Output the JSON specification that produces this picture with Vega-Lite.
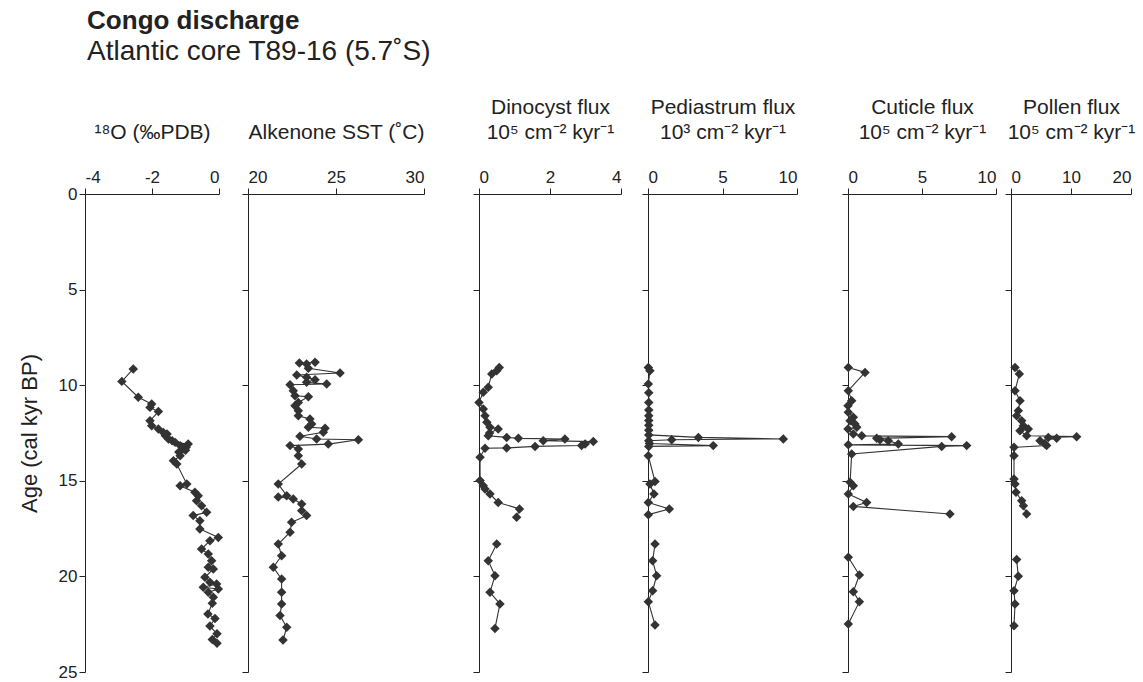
{
  "$schema": "https://vega.github.io/schema/vega-lite/v6.json",
  "padding": {"left": 18, "top": 8, "right": 0, "bottom": 0},
  "background": "white",
  "title": {
    "text": "Congo discharge",
    "subtitle": "Atlantic core T89-16 (5.7˚S)",
    "anchor": "start",
    "dx": 69,
    "font": "Liberation Sans",
    "fontSize": 26,
    "fontWeight": "bold",
    "color": "#222",
    "subtitleFont": "Liberation Sans",
    "subtitleFontSize": 28,
    "subtitleColor": "#222",
    "subtitlePadding": 4,
    "offset": 30
  },
  "datasets": {
    "d18o": [
      {"age": 9.15, "v": -2.56, "seg": "a"}, {"age": 9.8, "v": -2.9, "seg": "a"}, {"age": 10.63, "v": -2.41, "seg": "a"},
      {"age": 10.98, "v": -2.01, "seg": "a"}, {"age": 11.16, "v": -2.06, "seg": "a"}, {"age": 11.38, "v": -1.81, "seg": "a"},
      {"age": 11.86, "v": -2.06, "seg": "a"}, {"age": 12.12, "v": -2.01, "seg": "a"}, {"age": 12.29, "v": -1.81, "seg": "a"},
      {"age": 12.47, "v": -1.66, "seg": "a"}, {"age": 12.55, "v": -1.55, "seg": "a"}, {"age": 12.65, "v": -1.6, "seg": "a"},
      {"age": 12.81, "v": -1.51, "seg": "a"}, {"age": 12.9, "v": -1.4, "seg": "a"}, {"age": 12.99, "v": -1.31, "seg": "a"},
      {"age": 13.08, "v": -0.92, "seg": "a"}, {"age": 13.16, "v": -1.16, "seg": "a"}, {"age": 13.25, "v": -0.98, "seg": "a"},
      {"age": 13.34, "v": -1.07, "seg": "a"}, {"age": 13.4, "v": -1.0, "seg": "a"}, {"age": 13.5, "v": -1.2, "seg": "a"},
      {"age": 13.69, "v": -1.16, "seg": "a"}, {"age": 13.95, "v": -1.36, "seg": "a"}, {"age": 14.12, "v": -1.26, "seg": "a"},
      {"age": 15.17, "v": -0.96, "seg": "a"}, {"age": 15.26, "v": -1.16, "seg": "a"}, {"age": 15.6, "v": -0.72, "seg": "a"},
      {"age": 15.78, "v": -0.62, "seg": "a"}, {"age": 16.04, "v": -0.67, "seg": "a"}, {"age": 16.3, "v": -0.52, "seg": "a"},
      {"age": 16.65, "v": -0.37, "seg": "a"}, {"age": 16.82, "v": -0.77, "seg": "a"}, {"age": 17.09, "v": -0.57, "seg": "a"},
      {"age": 17.52, "v": -0.57, "seg": "a"}, {"age": 17.96, "v": -0.02, "seg": "a"}, {"age": 18.13, "v": -0.27, "seg": "a"},
      {"age": 18.57, "v": -0.52, "seg": "a"}, {"age": 18.83, "v": -0.32, "seg": "a"}, {"age": 19.18, "v": -0.22, "seg": "a"},
      {"age": 19.52, "v": -0.32, "seg": "a"}, {"age": 19.61, "v": -0.17, "seg": "a"}, {"age": 20.05, "v": -0.42, "seg": "a"},
      {"age": 20.31, "v": -0.27, "seg": "a"}, {"age": 20.4, "v": -0.07, "seg": "a"}, {"age": 20.57, "v": -0.47, "seg": "a"},
      {"age": 20.66, "v": -0.02, "seg": "a"}, {"age": 20.83, "v": -0.32, "seg": "a"}, {"age": 21.09, "v": -0.17, "seg": "a"},
      {"age": 21.4, "v": -0.2, "seg": "a"}, {"age": 21.97, "v": -0.33, "seg": "a"}, {"age": 22.2, "v": -0.12, "seg": "a"},
      {"age": 22.6, "v": -0.27, "seg": "a"}, {"age": 23.0, "v": -0.06, "seg": "a"}, {"age": 23.3, "v": -0.2, "seg": "a"},
      {"age": 23.5, "v": -0.06, "seg": "a"}
    ],
    "sst": [
      {"age": 8.8, "v": 23.81, "seg": "a"}, {"age": 8.84, "v": 22.92, "seg": "a"}, {"age": 8.89, "v": 23.33, "seg": "a"},
      {"age": 9.12, "v": 23.43, "seg": "a"}, {"age": 9.36, "v": 25.23, "seg": "a"}, {"age": 9.47, "v": 22.77, "seg": "a"},
      {"age": 9.59, "v": 23.33, "seg": "a"}, {"age": 9.71, "v": 23.81, "seg": "a"}, {"age": 9.85, "v": 23.33, "seg": "a"},
      {"age": 9.94, "v": 24.47, "seg": "a"}, {"age": 9.98, "v": 22.39, "seg": "a"}, {"age": 10.29, "v": 22.57, "seg": "a"},
      {"age": 10.55, "v": 22.67, "seg": "a"}, {"age": 10.6, "v": 23.43, "seg": "a"}, {"age": 10.9, "v": 22.86, "seg": "a"},
      {"age": 11.07, "v": 22.67, "seg": "a"}, {"age": 11.33, "v": 22.86, "seg": "a"}, {"age": 11.6, "v": 22.86, "seg": "a"},
      {"age": 11.77, "v": 23.52, "seg": "a"}, {"age": 12.03, "v": 23.62, "seg": "a"}, {"age": 12.2, "v": 23.43, "seg": "a"},
      {"age": 12.25, "v": 24.38, "seg": "a"}, {"age": 12.46, "v": 24.28, "seg": "a"}, {"age": 12.67, "v": 22.95, "seg": "a"},
      {"age": 12.81, "v": 23.9, "seg": "a"}, {"age": 12.85, "v": 26.27, "seg": "a"}, {"age": 13.08, "v": 24.56, "seg": "a"},
      {"age": 13.16, "v": 22.39, "seg": "a"}, {"age": 13.34, "v": 22.86, "seg": "a"}, {"age": 13.69, "v": 22.86, "seg": "a"},
      {"age": 14.12, "v": 23.05, "seg": "a"}, {"age": 15.17, "v": 21.72, "seg": "a"}, {"age": 15.78, "v": 22.2, "seg": "a"},
      {"age": 15.85, "v": 21.72, "seg": "a"}, {"age": 15.95, "v": 22.57, "seg": "a"}, {"age": 16.21, "v": 23.05, "seg": "a"},
      {"age": 16.56, "v": 23.05, "seg": "a"}, {"age": 16.82, "v": 23.33, "seg": "a"}, {"age": 17.17, "v": 22.48, "seg": "a"},
      {"age": 17.69, "v": 22.39, "seg": "a"}, {"age": 18.31, "v": 21.72, "seg": "a"}, {"age": 18.92, "v": 21.91, "seg": "a"},
      {"age": 19.52, "v": 21.44, "seg": "a"}, {"age": 20.14, "v": 21.91, "seg": "a"}, {"age": 20.83, "v": 21.91, "seg": "a"},
      {"age": 21.44, "v": 21.91, "seg": "a"}, {"age": 22.05, "v": 21.82, "seg": "a"}, {"age": 22.66, "v": 22.2, "seg": "a"},
      {"age": 23.33, "v": 21.99, "seg": "a"}
    ],
    "dino": [
      {"age": 9.07, "v": 0.57, "seg": "a"}, {"age": 9.24, "v": 0.5, "seg": "a"}, {"age": 9.41, "v": 0.36, "seg": "a"},
      {"age": 10.11, "v": 0.26, "seg": "a"}, {"age": 10.37, "v": 0.12, "seg": "a"}, {"age": 10.9, "v": 0.0, "seg": "a"},
      {"age": 11.24, "v": 0.12, "seg": "a"}, {"age": 11.6, "v": 0.17, "seg": "a"}, {"age": 11.94, "v": 0.22, "seg": "a"},
      {"age": 12.2, "v": 0.31, "seg": "a"}, {"age": 12.29, "v": 0.54, "seg": "a"}, {"age": 12.5, "v": 0.3, "seg": "a"},
      {"age": 12.64, "v": 0.26, "seg": "a"}, {"age": 12.73, "v": 0.78, "seg": "a"}, {"age": 12.78, "v": 1.11, "seg": "a"},
      {"age": 12.81, "v": 2.42, "seg": "a"}, {"age": 12.9, "v": 1.81, "seg": "a"}, {"age": 12.95, "v": 3.22, "seg": "a"},
      {"age": 13.08, "v": 2.99, "seg": "a"}, {"age": 13.15, "v": 2.89, "seg": "a"}, {"age": 13.2, "v": 1.58, "seg": "a"},
      {"age": 13.28, "v": 0.78, "seg": "a"}, {"age": 13.3, "v": 0.17, "seg": "a"}, {"age": 13.77, "v": 0.03, "seg": "a"},
      {"age": 14.99, "v": 0.03, "seg": "a"}, {"age": 15.26, "v": 0.12, "seg": "a"}, {"age": 15.43, "v": 0.17, "seg": "a"},
      {"age": 15.69, "v": 0.31, "seg": "a"}, {"age": 16.13, "v": 0.54, "seg": "a"}, {"age": 16.47, "v": 1.14, "seg": "a"},
      {"age": 16.91, "v": 1.06, "seg": "a"},
      {"age": 18.31, "v": 0.5, "seg": "b"}, {"age": 19.18, "v": 0.26, "seg": "b"}, {"age": 19.96, "v": 0.45, "seg": "b"},
      {"age": 20.83, "v": 0.31, "seg": "b"}, {"age": 21.44, "v": 0.59, "seg": "b"}, {"age": 22.72, "v": 0.45, "seg": "b"}
    ],
    "pedi": [
      {"age": 9.07, "v": 0.02, "seg": "a"}, {"age": 9.24, "v": 0.13, "seg": "a"}, {"age": 9.94, "v": 0.02, "seg": "a"},
      {"age": 10.4, "v": 0.05, "seg": "a"}, {"age": 10.9, "v": 0.05, "seg": "a"}, {"age": 11.3, "v": 0.05, "seg": "a"},
      {"age": 11.6, "v": 0.05, "seg": "a"}, {"age": 11.85, "v": 0.05, "seg": "a"}, {"age": 12.1, "v": 0.05, "seg": "a"},
      {"age": 12.35, "v": 0.05, "seg": "a"}, {"age": 12.6, "v": 0.05, "seg": "a"}, {"age": 12.73, "v": 3.38, "seg": "a"},
      {"age": 12.81, "v": 9.08, "seg": "a"}, {"age": 12.85, "v": 1.59, "seg": "a"}, {"age": 12.9, "v": 0.05, "seg": "a"},
      {"age": 13.05, "v": 0.1, "seg": "a"}, {"age": 13.16, "v": 4.38, "seg": "a"}, {"age": 13.2, "v": 0.05, "seg": "a"},
      {"age": 13.69, "v": 0.02, "seg": "a"}, {"age": 15.04, "v": 0.47, "seg": "a"}, {"age": 15.17, "v": 0.13, "seg": "a"},
      {"age": 15.69, "v": 0.4, "seg": "a"}, {"age": 16.13, "v": 0.02, "seg": "a"}, {"age": 16.47, "v": 1.43, "seg": "a"},
      {"age": 16.77, "v": 0.02, "seg": "a"},
      {"age": 18.31, "v": 0.47, "seg": "b"}, {"age": 19.18, "v": 0.31, "seg": "b"}, {"age": 19.96, "v": 0.58, "seg": "b"},
      {"age": 20.75, "v": 0.31, "seg": "b"}, {"age": 21.32, "v": 0.02, "seg": "b"}, {"age": 22.54, "v": 0.47, "seg": "b"}
    ],
    "cut": [
      {"age": 9.07, "v": 0.02, "seg": "a"}, {"age": 9.33, "v": 1.15, "seg": "a"}, {"age": 10.29, "v": 0.02, "seg": "a"},
      {"age": 10.81, "v": 0.25, "seg": "a"}, {"age": 11.07, "v": 0.0, "seg": "a"}, {"age": 11.42, "v": 0.02, "seg": "a"},
      {"age": 11.68, "v": 0.36, "seg": "a"}, {"age": 11.86, "v": 0.14, "seg": "a"}, {"age": 12.03, "v": 0.47, "seg": "a"},
      {"age": 12.2, "v": 0.59, "seg": "a"}, {"age": 12.29, "v": 0.0, "seg": "a"}, {"age": 12.55, "v": 0.36, "seg": "a"},
      {"age": 12.65, "v": 0.93, "seg": "a"}, {"age": 12.69, "v": 7.0, "seg": "a"}, {"age": 12.78, "v": 1.94, "seg": "a"},
      {"age": 12.85, "v": 2.16, "seg": "a"}, {"age": 12.9, "v": 2.72, "seg": "a"}, {"age": 13.08, "v": 3.4, "seg": "a"},
      {"age": 13.12, "v": 0.02, "seg": "a"}, {"age": 13.16, "v": 8.02, "seg": "a"}, {"age": 13.2, "v": 6.33, "seg": "a"},
      {"age": 13.6, "v": 0.25, "seg": "a"}, {"age": 15.08, "v": 0.14, "seg": "a"}, {"age": 15.26, "v": 0.36, "seg": "a"},
      {"age": 15.69, "v": 0.02, "seg": "a"}, {"age": 16.13, "v": 1.26, "seg": "a"}, {"age": 16.34, "v": 0.36, "seg": "a"},
      {"age": 16.74, "v": 6.89, "seg": "a"},
      {"age": 19.0, "v": 0.02, "seg": "b"}, {"age": 19.93, "v": 0.77, "seg": "b"}, {"age": 20.8, "v": 0.36, "seg": "b"},
      {"age": 21.32, "v": 0.77, "seg": "b"}, {"age": 22.49, "v": 0.02, "seg": "b"}
    ],
    "pol": [
      {"age": 9.07, "v": 0.67, "seg": "a"}, {"age": 9.41, "v": 1.39, "seg": "a"}, {"age": 10.29, "v": 0.67, "seg": "a"},
      {"age": 10.81, "v": 1.5, "seg": "a"}, {"age": 11.33, "v": 1.22, "seg": "a"}, {"age": 11.6, "v": 0.94, "seg": "a"},
      {"age": 11.86, "v": 1.78, "seg": "a"}, {"age": 12.12, "v": 2.06, "seg": "a"}, {"age": 12.29, "v": 2.89, "seg": "a"},
      {"age": 12.38, "v": 1.5, "seg": "a"}, {"age": 12.64, "v": 2.61, "seg": "a"}, {"age": 12.69, "v": 10.94, "seg": "a"},
      {"age": 12.73, "v": 6.22, "seg": "a"}, {"age": 12.78, "v": 7.61, "seg": "a"}, {"age": 12.9, "v": 4.83, "seg": "a"},
      {"age": 13.08, "v": 5.67, "seg": "a"}, {"age": 13.16, "v": 5.94, "seg": "a"}, {"age": 13.25, "v": 0.5, "seg": "a"},
      {"age": 13.69, "v": 0.5, "seg": "a"}, {"age": 14.91, "v": 0.5, "seg": "a"}, {"age": 15.17, "v": 0.67, "seg": "a"},
      {"age": 15.6, "v": 0.83, "seg": "a"}, {"age": 16.04, "v": 1.78, "seg": "a"}, {"age": 16.3, "v": 2.06, "seg": "a"},
      {"age": 16.74, "v": 2.61, "seg": "a"},
      {"age": 19.12, "v": 0.94, "seg": "b"}, {"age": 19.99, "v": 1.22, "seg": "b"}, {"age": 20.75, "v": 0.5, "seg": "b"},
      {"age": 21.44, "v": 0.67, "seg": "b"}, {"age": 22.58, "v": 0.5, "seg": "b"}
    ]
  },
  "spacing": 0,
  "bounds": "flush",
  "hconcat": [
    {
      "width": 163, "height": 478,
      "data": {"name": "d18o"},
      "encoding": {
        "y": {"field": "age", "type": "quantitative", "scale": {"domain": [0, 25], "reverse": true, "nice": false},
              "axis": {"values": [0, 5, 10, 15, 20, 25], "title": "Age (cal kyr BP)", "titlePadding": 17, "titleFontSize": 22}},
        "x": {"field": "v", "type": "quantitative", "scale": {"domain": [-4, 0], "range": [0, 134], "nice": false, "zero": false},
              "axis": {"orient": "top", "values": [-4, -2, 0], "title": "¹⁸O (‰PDB)", "labelExpr": "datum.value < 0 ? '-' + abs(datum.value) : datum.label"}}
      },
      "layer": [
        {"mark": {"type": "line", "color": "#333", "strokeWidth": 1.1}, "encoding": {"detail": {"field": "seg"}, "order": {"field": "age", "type": "quantitative"}}},
        {"mark": {"type": "point", "shape": "diamond", "filled": true, "color": "#333", "size": 90, "opacity": 1}}
      ]
    },
    {
      "width": 231, "height": 478,
      "data": {"name": "sst"},
      "encoding": {
        "y": {"field": "age", "type": "quantitative", "scale": {"domain": [0, 25], "reverse": true, "nice": false},
              "axis": {"values": [0, 5, 10, 15, 20, 25], "labels": false, "title": null}},
        "x": {"field": "v", "type": "quantitative", "scale": {"domain": [20, 30], "range": [0, 176], "nice": false, "zero": false},
              "axis": {"orient": "top", "values": [20, 25, 30], "title": "Alkenone SST (˚C)"}}
      },
      "layer": [
        {"mark": {"type": "line", "color": "#333", "strokeWidth": 1.1}, "encoding": {"detail": {"field": "seg"}, "order": {"field": "age", "type": "quantitative"}}},
        {"mark": {"type": "point", "shape": "diamond", "filled": true, "color": "#333", "size": 90, "opacity": 1}}
      ]
    },
    {
      "width": 169, "height": 478,
      "data": {"name": "dino"},
      "encoding": {
        "y": {"field": "age", "type": "quantitative", "scale": {"domain": [0, 25], "reverse": true, "nice": false},
              "axis": {"values": [0, 5, 10, 15, 20, 25], "labels": false, "title": null}},
        "x": {"field": "v", "type": "quantitative", "scale": {"domain": [0, 4], "range": [0, 142], "nice": false},
              "axis": {"orient": "top", "values": [0, 2, 4], "title": ["Dinocyst flux", "10⁵ cm⁻² kyr⁻¹"]}}
      },
      "layer": [
        {"mark": {"type": "line", "color": "#333", "strokeWidth": 1.1}, "encoding": {"detail": {"field": "seg"}, "order": {"field": "age", "type": "quantitative"}}},
        {"mark": {"type": "point", "shape": "diamond", "filled": true, "color": "#333", "size": 90, "opacity": 1}}
      ]
    },
    {
      "width": 200, "height": 478,
      "data": {"name": "pedi"},
      "encoding": {
        "y": {"field": "age", "type": "quantitative", "scale": {"domain": [0, 25], "reverse": true, "nice": false},
              "axis": {"values": [0, 5, 10, 15, 20, 25], "labels": false, "title": null}},
        "x": {"field": "v", "type": "quantitative", "scale": {"domain": [0, 10], "range": [0, 149], "nice": false},
              "axis": {"orient": "top", "values": [0, 5, 10], "title": ["Pediastrum flux", "10³ cm⁻² kyr⁻¹"]}}
      },
      "layer": [
        {"mark": {"type": "line", "color": "#333", "strokeWidth": 1.1}, "encoding": {"detail": {"field": "seg"}, "order": {"field": "age", "type": "quantitative"}}},
        {"mark": {"type": "point", "shape": "diamond", "filled": true, "color": "#333", "size": 90, "opacity": 1}}
      ]
    },
    {
      "width": 163, "height": 478,
      "data": {"name": "cut"},
      "encoding": {
        "y": {"field": "age", "type": "quantitative", "scale": {"domain": [0, 25], "reverse": true, "nice": false},
              "axis": {"values": [0, 5, 10, 15, 20, 25], "labels": false, "title": null}},
        "x": {"field": "v", "type": "quantitative", "scale": {"domain": [0, 10], "range": [0, 148], "nice": false},
              "axis": {"orient": "top", "values": [0, 5, 10], "title": ["Cuticle flux", "10⁵ cm⁻² kyr⁻¹"]}}
      },
      "layer": [
        {"mark": {"type": "line", "color": "#333", "strokeWidth": 1.1}, "encoding": {"detail": {"field": "seg"}, "order": {"field": "age", "type": "quantitative"}}},
        {"mark": {"type": "point", "shape": "diamond", "filled": true, "color": "#333", "size": 90, "opacity": 1}}
      ]
    },
    {
      "width": 125, "height": 478,
      "data": {"name": "pol"},
      "encoding": {
        "y": {"field": "age", "type": "quantitative", "scale": {"domain": [0, 25], "reverse": true, "nice": false},
              "axis": {"values": [0, 5, 10, 15, 20, 25], "labels": false, "title": null}},
        "x": {"field": "v", "type": "quantitative", "scale": {"domain": [0, 20], "range": [0, 120], "nice": false},
              "axis": {"orient": "top", "values": [0, 10, 20], "title": ["Pollen flux", "10⁵ cm⁻² kyr⁻¹"]}}
      },
      "layer": [
        {"mark": {"type": "line", "color": "#333", "strokeWidth": 1.1}, "encoding": {"detail": {"field": "seg"}, "order": {"field": "age", "type": "quantitative"}}},
        {"mark": {"type": "point", "shape": "diamond", "filled": true, "color": "#333", "size": 90, "opacity": 1}}
      ]
    }
  ],
  "config": {
    "view": {"stroke": null},
    "axis": {
      "grid": false,
      "domainColor": "#222",
      "tickColor": "#222",
      "labelColor": "#222",
      "titleColor": "#222",
      "labelFont": "Liberation Sans",
      "titleFont": "Liberation Sans",
      "labelFontSize": 17,
      "titleFontSize": 21,
      "titleFontWeight": "normal",
      "tickSize": 6,
      "labelPadding": 2,
      "titlePadding": 26,
      "titleLineHeight": 25
    }
  }
}
